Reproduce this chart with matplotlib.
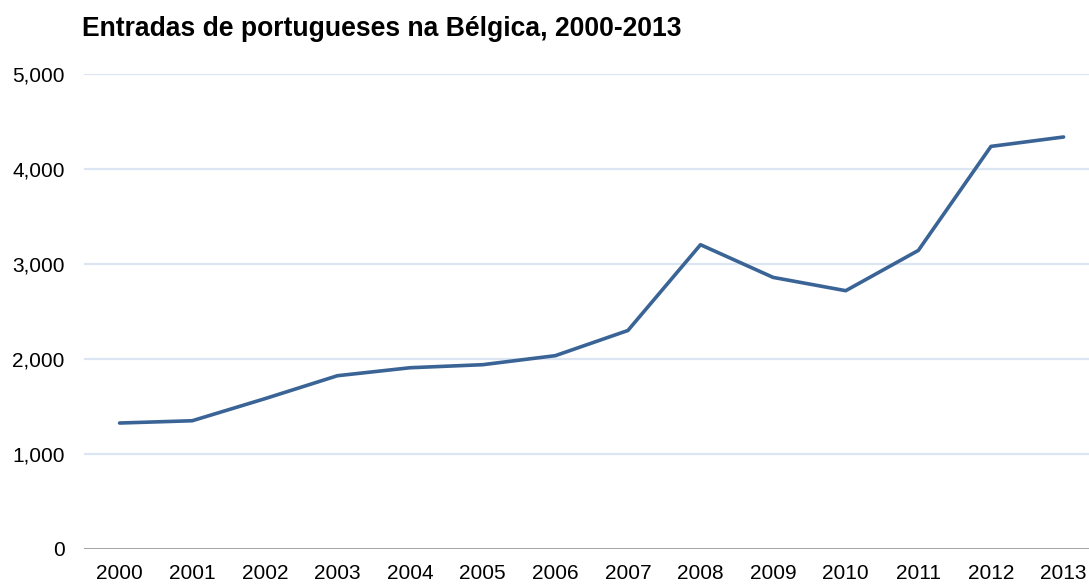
import matplotlib.pyplot as plt
from matplotlib.ticker import FuncFormatter

# data
years = ['2000', '2001', '2002', '2003', '2004', '2005', '2006',
         '2007', '2008', '2009', '2010', '2011', '2012', '2013']
entries = [1326, 1350, 1582, 1824, 1908, 1940, 2035,
           2300, 3203, 2859, 2719, 3143, 4238, 4337]
yticks = [0, 1000, 2000, 3000, 4000, 5000]
title = 'Entradas de portugueses na Bélgica, 2000-2013'

plt.rcParams['font.family'] = ['Liberation Sans', 'DejaVu Sans']

fig = plt.figure(figsize=(10.89, 5.85), dpi=100)
ax = fig.add_axes([84 / 1089, 1 - 549 / 585, 1005 / 1089, 475 / 585])

x = list(range(len(years)))
ax.plot(x, entries, color='#3a6496', lw=2.6, solid_capstyle='round', zorder=3)

ax.set_ylim(0, 5000)
ax.set_xlim(-0.49, 13.35)
ax.set_yticks(yticks)
ax.yaxis.set_major_formatter(FuncFormatter(lambda v, p: f'{int(v):,}'))
ax.set_xticks(x)
ax.set_xticklabels(years)

for t in yticks[1:]:
    ax.axhline(t, color='#dce6f2', lw=1.6, zorder=1)
ax.axhline(0, color='#898989', lw=1.8, zorder=2)

for s in ax.spines.values():
    s.set_visible(False)
ax.tick_params(length=0, labelsize=15, colors='black')
ax.tick_params(axis='y', pad=14)
ax.tick_params(axis='x', pad=11)

fig.text(82 / 1089, 1 - 35.5 / 585, title, fontsize=19.1, fontweight='bold', ha='left', va='baseline')

fig.savefig('out.png', dpi=100)
